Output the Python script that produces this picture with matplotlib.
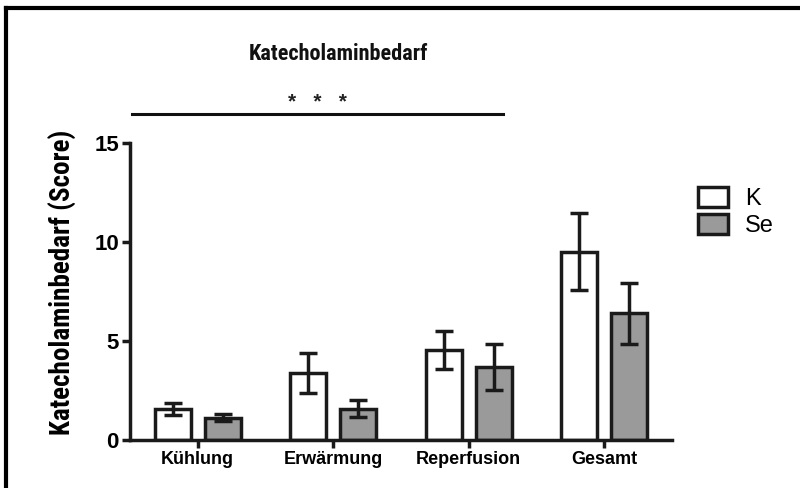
import matplotlib
matplotlib.use('Agg')
import matplotlib.pyplot as plt
import numpy as np

plt.rcParams['font.family'] = ['Liberation Sans', 'DejaVu Sans']
narrow = ['Roboto Condensed', 'Liberation Sans']

categories = ['Kühlung', 'Erwärmung', 'Reperfusion', 'Gesamt']
k_mean = [1.57, 3.4, 4.55, 9.52]
k_err = [0.3, 1.0, 0.95, 1.94]
se_mean = [1.13, 1.57, 3.69, 6.4]
se_err = [0.16, 0.43, 1.16, 1.52]
y_ticks = [0, 5, 10, 15]

fig = plt.figure(figsize=(8, 4.88), dpi=100)
ax = fig.add_axes([0.1625, 0.0984, 0.6775, 0.6076])

x = np.arange(len(categories)) + 0.5
off = 0.185
w = 0.265
lw = 2.5
err_kw = dict(elinewidth=2.5, capsize=6.5, capthick=2.5, ecolor='#1a1a1a')
ax.bar(x - off, k_mean, w, yerr=k_err, color='white', edgecolor='#1a1a1a',
       linewidth=lw, label='K', error_kw=err_kw, zorder=2)
ax.bar(x + off, se_mean, w, yerr=se_err, color='#9a9a9a', edgecolor='#1a1a1a',
       linewidth=lw, label='Se', error_kw=err_kw, zorder=2)

ax.set_xlim(0, 4)
ax.set_ylim(0, 15)
ax.set_xticks(x)
ax.set_xticklabels(categories, fontsize=13, fontweight='bold')
ax.set_yticks(y_ticks)
ax.set_yticklabels([str(t) for t in y_ticks], fontsize=16, fontweight='bold')
for s in ['top', 'right']:
    ax.spines[s].set_visible(False)
for s in ['left', 'bottom']:
    ax.spines[s].set_linewidth(2.5)
    ax.spines[s].set_color('#1a1a1a')
ax.tick_params(axis='both', width=2.5, length=6, color='#1a1a1a', pad=2)
ax.set_ylabel('Katecholaminbedarf (Score)', fontsize=19.5, fontweight='bold', family=narrow)
ax.yaxis.set_label_coords(-0.098, 0.53)

# significance bar over the first three groups
ax.plot([0.015, 2.75], [16.5, 16.5], color='#111111', lw=2.2, clip_on=False)
ax.text(1.385, 16.6, '*   *   *', ha='center', va='bottom', fontsize=15, fontweight='bold',
        color='#222222')

fig.text(0.4225, 0.89, 'Katecholaminbedarf', ha='center', va='center', fontsize=16,
         fontweight='bold', color='#111111', family=narrow)

leg = ax.legend(loc='upper left', bbox_to_anchor=(1.03, 0.885), frameon=False, fontsize=17,
                handlelength=1.3, handleheight=0.95, handletextpad=0.7, labelspacing=0.15,
                borderaxespad=0)

# frame lines at top and left edge of the picture
fig.add_artist(plt.Line2D([0.0075, 1.0], [0.984, 0.984], color='black', lw=3,
                          transform=fig.transFigure))
fig.add_artist(plt.Line2D([0.0075, 0.0075], [0.0, 0.984], color='black', lw=3,
                          transform=fig.transFigure))

fig.savefig('out.png', dpi=100)
